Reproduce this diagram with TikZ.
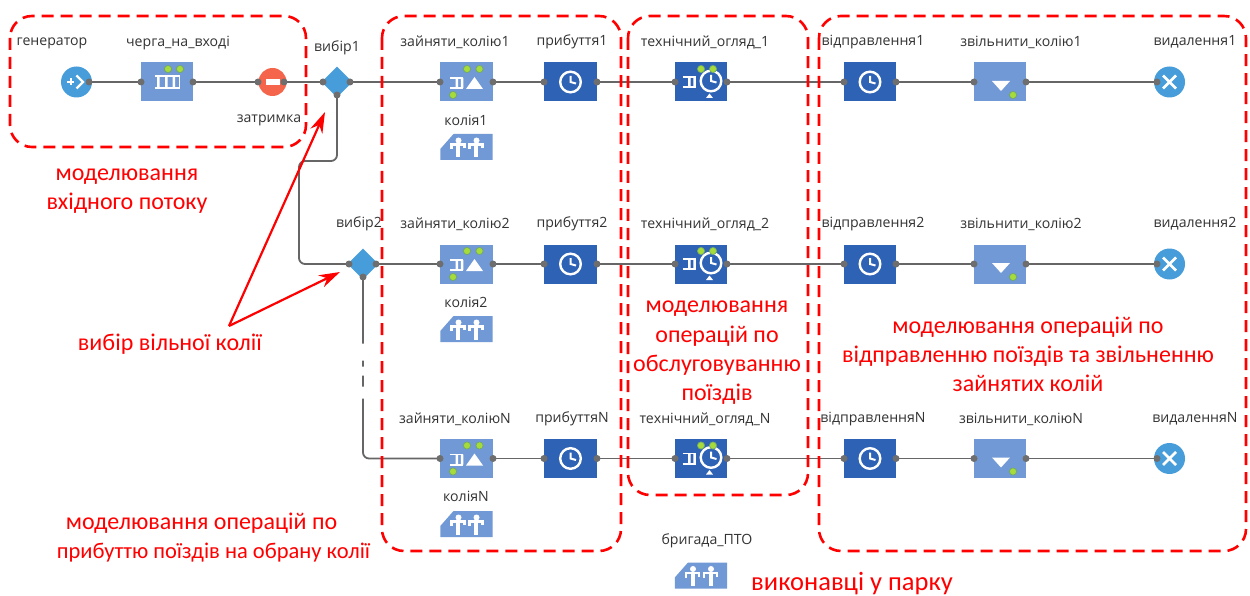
\documentclass[tikz,border=0pt]{standalone}
\usepackage{fontspec}
\setmainfont{Open Sans}
\newfontfamily\redfont{Carlito}
\usetikzlibrary{shapes.geometric,arrows.meta}
\definecolor{lightb}{HTML}{7199D6}
\definecolor{darkb}{HTML}{2E62B5}
\definecolor{circb}{HTML}{479DD9}
\definecolor{delayr}{HTML}{F4654B}
\definecolor{dotg}{HTML}{A6DB3C}
\definecolor{dotr}{HTML}{6FA86A}
\definecolor{portg}{HTML}{6E6E6E}
\definecolor{lineg}{HTML}{666666}
\definecolor{labelc}{HTML}{333333}
\tikzset{
  lbl/.style={font=\fontsize{14.1}{16}\selectfont,text=labelc,inner sep=0pt},
  redtxt/.style={font=\redfont\fontsize{24}{29.3}\selectfont,text=red,inner sep=0pt,align=center},
  lightbox/.style={rectangle,fill=lightb,minimum width=52.5,minimum height=39,inner sep=0pt},
  darkbox/.style={rectangle,fill=darkb,minimum width=52.5,minimum height=39,inner sep=0pt},
  resnode/.style={rectangle,minimum width=52.5,minimum height=26,inner sep=0pt},
  rounddot/.style={circle,fill=circb,minimum size=31,inner sep=0pt},
  diam/.style={diamond,fill=circb,minimum size=31,inner sep=0pt},
  conn/.style={draw=lineg,line width=1.8},
  region/.style={draw=red,line width=2.6,dash pattern=on 12 off 7,rounded corners=22},
  pointer/.style={draw=red,line width=2.2,-{Stealth[length=21,width=13]}},
  portdot/.style={fill=portg},
  greendot/.style={fill=dotg,draw=dotr,line width=.7},
  pics/qicon/.style={code={
    \draw[white,line width=1.6] (-6.5,-5.2) -- (6.5,-5.2) (-6.5,5.2) -- (6.5,5.2);
    \fill[white] (-1,-5) rectangle (1.6,5) (4.4,-5) rectangle (6.8,5);
  }},
  pics/qbigicon/.style={code={
    \draw[white,line width=1.8] (-12.5,-6) -- (12.5,-6) (-12.5,6) -- (12.5,6);
    \fill[white] (-10.5,-6) rectangle (-8,6) (-2.5,-6) rectangle (0,6) (5,-6) rectangle (7.5,6);
    \draw[white,line width=1.4] (12,-6) -- (12,6);
  }},
  pics/clockicon/.style={code={
    \draw[white,line width=2.4] (0,0) circle (10.3);
    \draw[white,line width=2] (0,-6) -- (0,0) -- (5.5,1.5);
  }},
  pics/person/.style={code={
    \fill[white] (0.5,-7) circle (3);
    \draw[white,line width=2.4] (-6.5,1.5) -- (-6.5,-3) -- (6.5,-3) -- (6.5,0.5);
    \draw[white,line width=4] (0,-3) -- (0,10);
  }},
  pics/resicon/.style={code={
    \fill[lightb] (-26.2,13) -- (-26.2,2) -- (-13,-13) -- (26.2,-13) -- (26.2,13) -- cycle;
    \pic at (-8.5,0.5) {person};
    \pic at (9.5,0.5) {person};
  }},
  pics/seizeicon/.style={code={
    \pic at (-10,1) {qicon};
    \fill[white] (-0.5,7) -- (16.5,7) -- (8,-5) -- cycle;
    \path[greendot] (0.5,-13) circle (3.6) (13,-13) circle (3.6) (-13.5,13) circle (3.6);
  }},
  pics/releaseicon/.style={code={
    \fill[white] (-8,-1) -- (10,-1) -- (1,9) -- cycle;
    \path[greendot] (13,13) circle (3.6);
  }},
  pics/inspecticon/.style={code={
    \pic at (-12,0) {qicon};
    \pic at (10,-1) {clockicon};
    \fill[white] (5,16) -- (12,16) -- (8.5,11.5) -- cycle;
    \path[greendot] (0,-13) circle (3.6) (12,-13) circle (3.6);
  }}
}
\newcommand{\portat}[1]{\fill[portdot] #1 circle (3.5);}
\begin{document}
\begin{tikzpicture}[x=1pt,y=-1pt]
\useasboundingbox (0,0) rectangle (1250,596);
\fill[white] (0,0) rectangle (1250,596);

% input block
\node[rounddot] (gen) at (76.5,82) {};
\node[lightbox] (queue) at (167,82) {};
\node[circle,fill=delayr,minimum size=28,inner sep=0pt] (delay) at (272.5,82) {};
\node[lbl] (lgen) at (52,43) {генератор};
\node[lbl] (lqueue) at (178,43) {черга\_на\_вході};
\node[lbl] (ldelay) at (269,120) {затримка};
\pic at (167.5,82) {qbigicon};
\path[greendot] (168,69) circle (3.6) (180,69) circle (3.6);
\fill[white] (265.5,79) rectangle (279.5,85);
\draw[white,line width=2] (67,82) -- (74,82) (70.5,78.5) -- (70.5,85.5);
\draw[white,line width=2.2] (76.5,75.5) -- (83,82) -- (76.5,88.5);

% diamonds
\node[diam] (ch1) at (337,82) {};
\node[diam] (ch2) at (363,264) {};
\node[lbl] (lch1) at (337,48) {вибір1};
\node[lbl] (lch2) at (359,224) {вибір2};

% rows
\foreach \r/\y/\n/\ly/\ry/\rl in {
  1/82/1/42/147/120,
  2/264/2/224/329/302,
  3/458.5/N/419/524/496}{
  \node[lightbox] (seize\r) at (466.5,\y) {};
  \node[darkbox] (arr\r) at (570.5,\y) {};
  \node[darkbox] (insp\r) at (701,\y) {};
  \node[darkbox] (dep\r) at (870,\y) {};
  \node[lightbox] (rel\r) at (1000,\y) {};
  \node[rounddot] (del\r) at (1169.5,\y) {};
  \node[resnode] (res\r) at (466.5,\ry) {};
  \pic at (res\r.center) {resicon};
  \pic at (seize\r.center) {seizeicon};
  \pic at (arr\r.center) {clockicon};
  \pic at (insp\r.center) {inspecticon};
  \pic at (dep\r.center) {clockicon};
  \pic at (rel\r.center) {releaseicon};
  \draw[white,line width=2.8] ([shift={(-6.5,-6.5)}]del\r.center) -- ([shift={(6.5,6.5)}]del\r.center)
     ([shift={(-6.5,6.5)}]del\r.center) -- ([shift={(6.5,-6.5)}]del\r.center);
  \node[lbl] (lseize\r) at (455,\ly) {зайняти\_колію\n};
  \node[lbl] (larr\r) at (572,\ly) {прибуття\n};
  \node[lbl] (lres\r) at (466,\rl) {колія\n};
  \node[lbl] (ldep\r) at (873,\ly) {відправлення\n};
  \node[lbl] (lrel\r) at (1021,\ly) {звільнити\_колію\n};
  \node[lbl] (ldel\r) at (1195,\ly) {видалення\n};
  \draw[conn] (seize\r.east) -- (arr\r.west);
  \draw[conn] (arr\r.east) -- (insp\r.west);
  \draw[conn] (insp\r.east) -- (dep\r.west);
  \draw[conn] (dep\r.east) -- (rel\r.west);
  \draw[conn] (rel\r.east) -- (del\r.west);
}
\node[lbl] (linsp1) at (705,42) {технічний\_огляд\_1};
\node[lbl] (linsp2) at (705,224) {технічний\_огляд\_2};
\node[lbl] (linsp3) at (705,419) {технічний\_огляд\_N};

% brigade
\node[resnode] (brig) at (701,575.5) {};
\pic at (brig.center) {resicon};
\node[lbl] (lbrig) at (707,541) {бригада\_ПТО};

% connectors
\draw[conn] (gen.east) -- (queue.west);
\draw[conn] (queue.east) -- (delay.west);
\draw[conn] (delay.east) -- (ch1.west);
\draw[conn] (ch1.east) -- (seize1.west);
\draw[conn] (ch2.east) -- (seize2.west);
\draw[conn,rounded corners=6] (ch1.south) |- (299,161) |- (ch2.west);
\draw[conn,rounded corners=6,dash pattern=on 64 off 17 on 6 off 9 on 11 off 12 on 1000] (ch2.south) |- (seize3.west);

% ports
\portat{(89,82)}
\foreach \x in {141,193,258,284,323,350} {\portat{(\x,82)}}
\portat{(337,95)}
\portat{(349,264)}
\portat{(376,264)}
\portat{(363,277)}
\foreach \y in {82,264,458.5} {
  \foreach \x in {440,493,544,597,675,727,844,896,974,1026,1157} {\portat{(\x,\y)}}
}

% red regions
\draw[region] (10,16) rectangle (306,147);
\draw[region] (382,16) rectangle (621,551);
\draw[region] (628,16) rectangle (808,495);
\draw[region] (819,16) rectangle (1246,551);

% red text
\node[redtxt] (tinput) at (127,191) {моделювання\\вхідного потоку};
\node[redtxt] (tchoice) at (170,344) {вибір вільної колії};
\node[redtxt,align=left] (tarrive) at (213.5,537.5) {\hspace*{9pt}моделювання операцій по\\{\fontsize{22.5}{29.3}\selectfont прибуттю поїздів на обрану колії}};
\node[redtxt] (tservice) at (717,353) {моделювання\\операцій по\\обслуговуванню\\поїздів};
\node[redtxt] (tdepart) at (1028,354.5) {моделювання операцій по\\відправленню поїздів та звільненню\\зайнятих колій};
\node[redtxt,font=\redfont\fontsize{26.5}{30}\selectfont] (tstaff) at (852,584) {виконавці у парку};

% pointers
\coordinate (fork) at (229,326);
\coordinate (tip1) at (325,112);
\coordinate (tip2) at (340,272);
\draw[pointer] (fork) -- (tip1);
\draw[pointer] (fork) -- (tip2);
\end{tikzpicture}
\end{document}
